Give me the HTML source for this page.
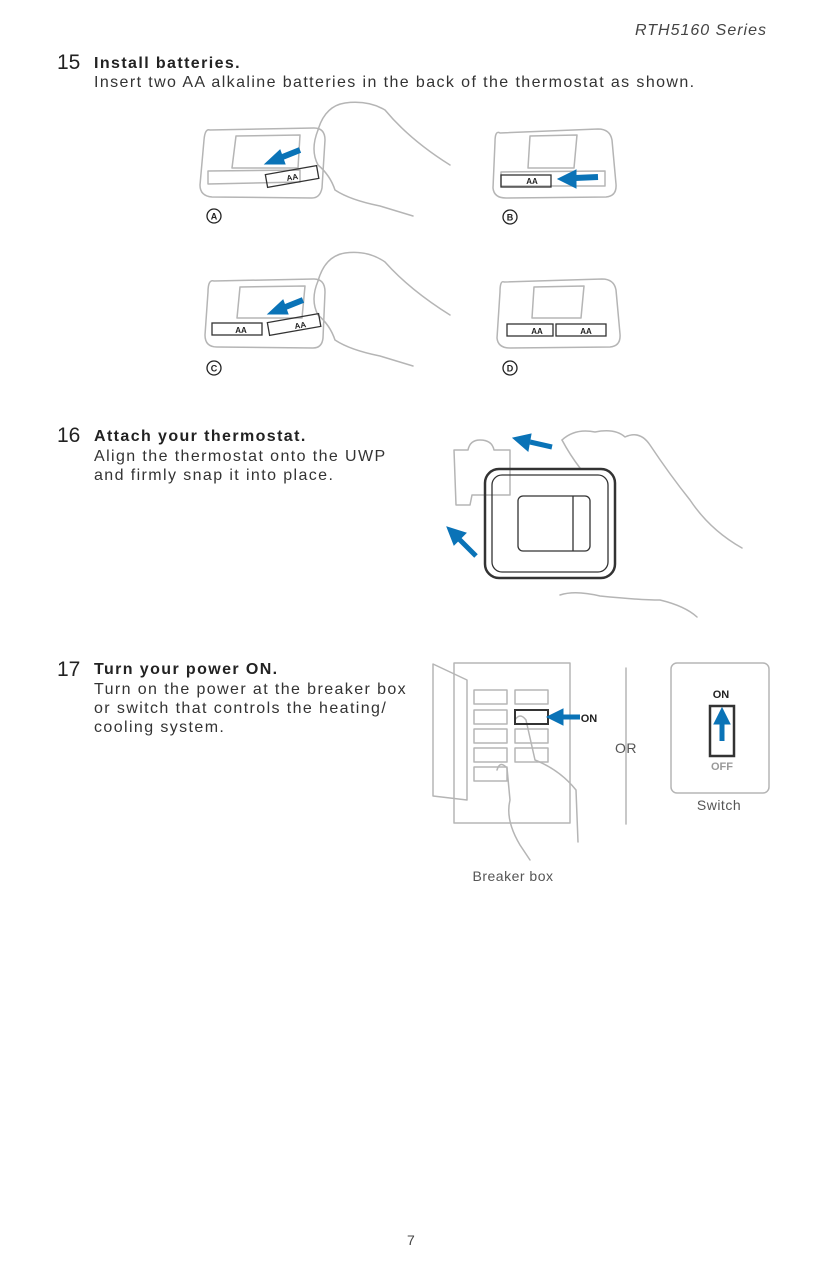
<!DOCTYPE html>
<html><head><meta charset="utf-8"><style>
body{margin:0;background:#fff;width:825px;height:1275px;overflow:hidden;position:relative;font-family:"Liberation Sans",sans-serif;color:#222}
.t{position:absolute;white-space:nowrap;letter-spacing:1.4px}
</style></head><body>
<svg width="825" height="1275" style="position:absolute;left:0;top:0" font-family="Liberation Sans, sans-serif">
<g fill="none" stroke="#b5b5b5" stroke-width="1.5" stroke-linejoin="round" stroke-linecap="round">
<path d="M210 130 Q205 128 204 140 L200 185 Q200 196 212 197 L312 198 Q320 198 322 188 L325 140 Q325 128 314 128 Z"/>
<path d="M236 136 L300 135 L298 168 L232 168 Z"/>
<path d="M208 171 L300 170 L300 182 L208 184Z"/>
<path d="M318 130 Q325 106 345 103 Q368 100 385 110 Q410 140 450 165"/>
<path d="M318 130 Q310 150 318 165 Q330 175 335 190 Q350 200 380 206 Q400 212 413 216"/>
<path d="M500 133 Q495 130 495 142 L493 188 Q494 198 506 198 L606 197 Q617 196 616 184 L612 140 Q610 129 598 129 Z"/>
<path d="M530 136 L577 135 L574 168 L528 168 Z"/>
<path d="M501 172 L605 171 L605 186 L501 186Z"/>
<path d="M214 281 Q208 279 208 292 L205 335 Q205 347 217 347 L313 348 Q322 348 323 338 L325 292 Q325 279 314 279 Z"/>
<path d="M240 287 L305 286 L302 318 L237 318 Z"/>
<path d="M318 281 Q325 256 345 253 Q368 250 385 262 Q410 290 450 315"/>
<path d="M318 281 Q310 300 318 315 Q330 325 335 340 Q350 350 380 356 Q400 362 413 366"/>
<path d="M504 282 Q500 280 500 292 L497 338 Q498 348 510 348 L610 347 Q621 346 620 334 L616 290 Q614 279 602 279 Z"/>
<path d="M534 287 L584 286 L581 318 L532 318 Z"/>
<path d="M454 450 L468 450 Q470 440 480 440 Q492 440 494 450 L510 450 L510 495 L472 495 L470 505 L456 505 Z"/>
<path d="M562 440 Q575 428 595 432 Q615 428 625 437 Q640 430 650 445 Q670 475 690 500 Q710 530 742 548"/>
<path d="M560 595 Q575 590 600 596 Q640 600 660 600 Q685 606 697 617"/>
<path d="M562 440 Q570 455 580 468"/>
<path d="M454 663 L570 663 L570 823 L454 823 Z"/>
<path d="M433 664 L467 680 L467 800 L433 796 Z"/>
<rect x="474" y="690" width="33" height="14"/><rect x="515" y="690" width="33" height="14"/>
<rect x="474" y="710" width="33" height="14"/>
<rect x="474" y="729" width="33" height="14"/><rect x="515" y="729" width="33" height="14"/>
<rect x="474" y="748" width="33" height="14"/><rect x="515" y="748" width="33" height="14"/>
<rect x="474" y="767" width="33" height="14"/>
<path d="M515 720 Q520 712 526 720 L535 760 Q560 770 576 790 L578 842 M497 770 Q500 760 507 768 L510 800 Q505 820 520 845 L530 860"/>
<path d="M626 668 L626 824"/>
<rect x="671" y="663" width="98" height="130" rx="6"/>
</g>
<g fill="none" stroke="#333" stroke-width="1.3">
<rect x="266" y="170" width="52" height="13" transform="rotate(-10 292 176)"/>
<rect x="501" y="175" width="50" height="12"/>
<rect x="212" y="323" width="50" height="12"/>
<rect x="268" y="318" width="52" height="13" transform="rotate(-10 294 324)"/>
<rect x="507" y="324" width="46" height="12"/><rect x="556" y="324" width="50" height="12"/>
<rect x="515" y="710" width="33" height="14" stroke-width="2"/>
<rect x="710" y="706" width="24" height="50" stroke-width="2.5"/>
<rect x="485" y="469" width="130" height="109" rx="14" stroke-width="2.5"/>
<rect x="492" y="475" width="116" height="97" rx="10" stroke-width="1.3"/>
<rect x="518" y="496" width="72" height="55" rx="5"/>
<path d="M573 496 L573 551"/>
</g>
<g font-size="8" font-weight="bold" fill="#222" text-anchor="middle">
<text x="292" y="180" transform="rotate(-10 292 176)">AA</text>
<text x="532" y="184">AA</text><text x="241" y="333">AA</text>
<text x="300" y="328" transform="rotate(-10 300 324)">AA</text>
<text x="537" y="334">AA</text><text x="586" y="334">AA</text>
</g>
<g fill="none" stroke="#222" stroke-width="1.3">
<circle cx="214" cy="216" r="7"/><circle cx="510" cy="217" r="7"/><circle cx="214" cy="368" r="7"/><circle cx="510" cy="368" r="7"/>
</g>
<g font-size="9" font-weight="bold" fill="#222" text-anchor="middle">
<text x="214" y="219.5">A</text><text x="510" y="220.5">B</text><text x="214" y="371.5">C</text><text x="510" y="371.5">D</text>
</g>
<g fill="#0a73b7" stroke="#0a73b7">
<path d="M300 150 L280 158" stroke-width="6"/><polygon points="265,164 280,150 285,164"/>
<path d="M598 177 L575 178" stroke-width="6"/><polygon points="558,179 576,170 576,188"/>
<path d="M303 300 L283 308" stroke-width="6"/><polygon points="268,314 283,300 288,314"/>
<path d="M552 447 L530 442" stroke-width="5"/><polygon points="513,438 531,434 528,451"/>
<path d="M476 556 L458 538" stroke-width="5"/><polygon points="447,527 466,533 454,545"/>
<path d="M580 717 L562 717" stroke-width="5"/><polygon points="547,717 563,709 563,725"/>
<path d="M722 741 L722 722" stroke-width="5"/><polygon points="722,708 714,724 730,724"/>
</g>
<g font-size="11" font-weight="bold" text-anchor="middle">
<text x="589" y="722" fill="#222">ON</text>
<text x="721" y="698" fill="#222">ON</text>
<text x="722" y="770" fill="#999">OFF</text>
</g>
<g font-size="14" fill="#555" text-anchor="middle" letter-spacing="0.5">
<text x="626" y="753">OR</text><text x="719" y="810">Switch</text><text x="513" y="881">Breaker box</text>
</g>
</svg>
<div class="t" style="right:58px;top:22px;font-size:16px;font-style:italic;color:#444;letter-spacing:1px">RTH5160 Series</div>
<div class="t" style="left:57px;top:51px;font-size:21px;letter-spacing:0">15</div>
<div class="t" style="left:94px;top:55px;font-size:16px;font-weight:bold">Install batteries.</div>
<div class="t" style="left:94px;top:74px;font-size:16px;color:#333">Insert two AA alkaline batteries in the back of the thermostat as shown.</div>
<div class="t" style="left:57px;top:424px;font-size:21px;letter-spacing:0">16</div>
<div class="t" style="left:94px;top:428px;font-size:16px;font-weight:bold">Attach your thermostat.</div>
<div class="t" style="left:94px;top:447px;font-size:16px;line-height:19px;color:#333">Align the thermostat onto the UWP<br>and firmly snap it into place.</div>
<div class="t" style="left:57px;top:658px;font-size:21px;letter-spacing:0">17</div>
<div class="t" style="left:94px;top:661px;font-size:16px;font-weight:bold">Turn your power ON.</div>
<div class="t" style="left:94px;top:680px;font-size:16px;line-height:19px;color:#333">Turn on the power at the breaker box<br>or switch that controls the heating/<br>cooling system.</div>
<div class="t" style="left:407px;top:1232px;font-size:14px;color:#444">7</div>
</body></html>
